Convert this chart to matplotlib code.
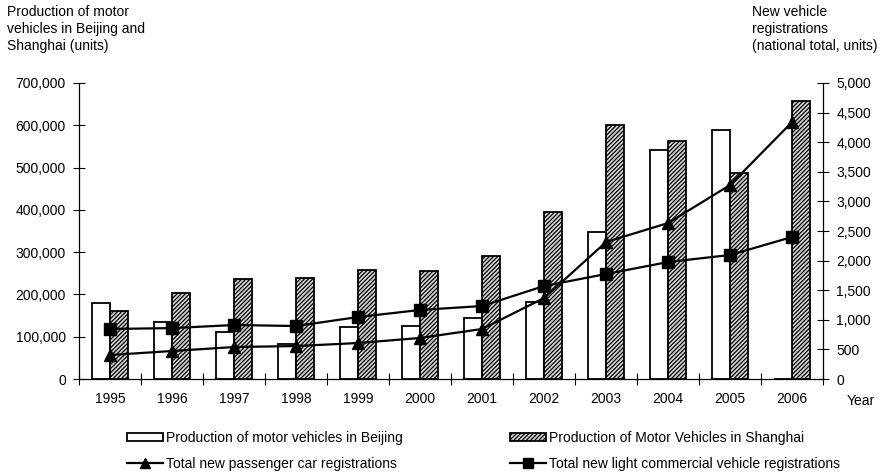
import matplotlib
matplotlib.use("Agg")
import matplotlib.pyplot as plt
import numpy as np
from matplotlib.ticker import FuncFormatter, FixedLocator
from matplotlib.patches import Patch
from matplotlib.lines import Line2D

plt.rcParams['font.family'] = ['Liberation Sans', 'DejaVu Sans']
plt.rcParams['hatch.linewidth'] = 0.9

years = ['1995', '1996', '1997', '1998', '1999', '2000', '2001', '2002', '2003', '2004', '2005', '2006']
beijing = [180000, 135000, 111000, 83000, 123000, 125000, 144000, 182000, 348000, 541000, 589000, 0]
shanghai = [162000, 203000, 236000, 239000, 258000, 255000, 291000, 395000, 601000, 563000, 487000, 657000]
passenger = [405, 473, 540, 557, 608, 693, 845, 1368, 2314, 2635, 3277, 4341]
light_commercial = [845, 860, 912, 895, 1047, 1166, 1233, 1571, 1774, 1976, 2095, 2399]

fig = plt.figure(figsize=(8.89, 4.74), dpi=100)
ax = fig.add_axes([0.0889, 0.2004, 0.837, 0.6245])
x = np.arange(len(years))
w = 0.29

ax.bar(x - w/2, beijing, width=w, facecolor='white', edgecolor='black', linewidth=1.3, zorder=2)
ax.bar(x + w/2, shanghai, width=w, facecolor='#d8d8d8', edgecolor='black', hatch='////////', linewidth=1.3, zorder=2)

ax.set_xlim(-0.5, len(years) - 0.5)
ax.set_ylim(0, 700000)
ax.set_yticks(np.arange(0, 700001, 100000))
ax.yaxis.set_major_formatter(FuncFormatter(lambda v, p: f"{int(v):,}"))
ax.xaxis.set_major_locator(FixedLocator(np.arange(-0.5, len(years), 1.0)))
ax.xaxis.set_major_formatter(FuncFormatter(lambda v, p: ''))
ax.xaxis.set_minor_locator(FixedLocator(x))
ax.set_xticklabels(years, minor=True)
ax.tick_params(axis='x', which='minor', length=0, pad=9, labelsize=10)
ax.tick_params(axis='x', which='major', direction='inout', length=8, width=0.8)
ax.tick_params(axis='y', direction='inout', length=9, width=0.8, labelsize=10, pad=5)
ax.spines['top'].set_visible(False)
ax.spines['right'].set_visible(False)
for s in ['left', 'bottom']:
    ax.spines[s].set_linewidth(0.9)

ax2 = ax.twinx()
ax2.plot(x, passenger, color='black', marker='^', markersize=8, linewidth=1.6, zorder=3)
ax2.plot(x, light_commercial, color='black', marker='s', markersize=8, linewidth=1.6, zorder=3)
ax2.set_ylim(0, 5000)
ax2.set_yticks(np.arange(0, 5001, 500))
ax2.yaxis.set_major_formatter(FuncFormatter(lambda v, p: f"{int(v):,}"))
ax2.tick_params(axis='y', direction='inout', length=9, width=0.8, labelsize=10, pad=5)
ax2.spines['top'].set_visible(False)
ax2.spines['left'].set_visible(False)
ax2.spines['bottom'].set_visible(False)
ax2.spines['right'].set_linewidth(0.9)

fig.text(0.008, 0.99, "Production of motor\nvehicles in Beijing and\nShanghai (units)",
         ha='left', va='top', fontsize=10, linespacing=1.3)
fig.text(0.846, 0.99, "New vehicle\nregistrations\n(national total, units)",
         ha='left', va='top', fontsize=10, linespacing=1.3)
fig.text(0.952, 0.155, "Year", ha='left', va='center', fontsize=10)

handles = [
    Patch(facecolor='white', edgecolor='black', linewidth=1.3),
    Line2D([], [], color='black', marker='^', markersize=7, linewidth=1.6),
    Patch(facecolor='#d8d8d8', edgecolor='black', hatch='////////', linewidth=1.3),
    Line2D([], [], color='black', marker='s', markersize=7, linewidth=1.6),
]
labels = [
    "Production of motor vehicles in Beijing",
    "Total new passenger car registrations",
    "Production of Motor Vehicles in Shanghai",
    "Total new light commercial vehicle registrations",
]
fig.legend(handles, labels, ncol=2, loc='upper left', bbox_to_anchor=(0.143, 0.091),
           frameon=False, fontsize=10, handlelength=2.6, handleheight=0.5,
           handletextpad=0.2, columnspacing=7.7, labelspacing=0.85, borderaxespad=0, borderpad=0)

fig.savefig("out.png", dpi=100)
